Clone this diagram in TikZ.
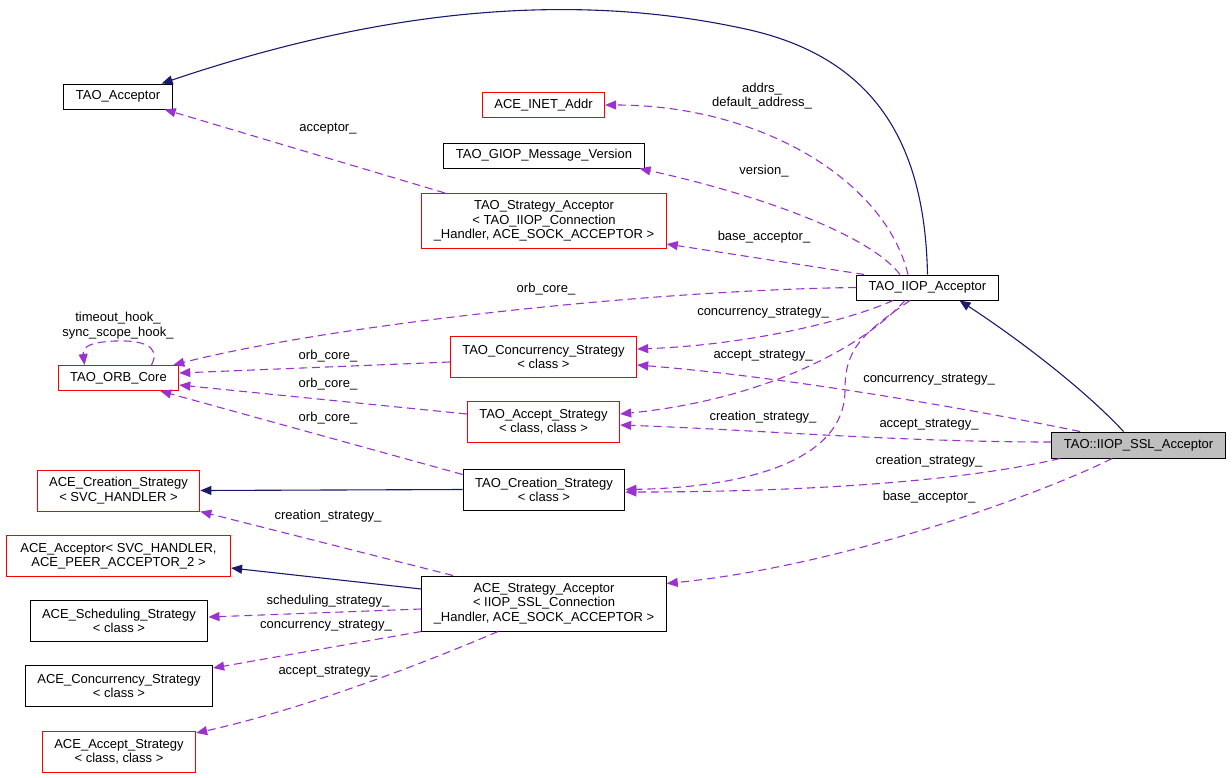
\documentclass[tikz,border=0pt]{standalone}
\usepackage{xcolor}
\usepackage{fontspec}
\setmainfont{Liberation Sans}
\usepackage{tikz}
\usetikzlibrary{arrows.meta}

\definecolor{inheritblue}{HTML}{191970}
\definecolor{usepurple}{HTML}{9A32CD}
\definecolor{focusgray}{HTML}{BFBFBF}

\begin{document}
\begin{tikzpicture}[x=1pt,y=-1pt,
    every node/.style={font=\fontsize{13}{14.3}\selectfont, inner sep=2pt},
    cls/.style={draw=black, line width=1pt, inner xsep=12pt, minimum height=25pt, align=center},
    clsred/.style={cls, draw=red},
    clsfocus/.style={cls, fill=focusgray},
    two/.style={minimum height=41pt},
    three/.style={minimum height=55pt},
    inherit/.style={draw=inheritblue, line width=1.1pt, -{Triangle[length=11pt,width=9pt]}},
    uses/.style={draw=usepurple, line width=1.1pt, dash pattern=on 8pt off 5pt, -{Triangle[length=11pt,width=9pt]}},
    lbl/.style={align=center, inner sep=0pt}]
            \useasboundingbox (0,0) rectangle (1232,777);

            \node[cls] (tacc) at (118,96.5) {TAO\_Acceptor};
            \node[clsred] (inet) at (543.5,105) {ACE\_INET\_Addr};
            \node[cls] (giop) at (544,155.5) {TAO\_GIOP\_Message\_Version};
            \node[clsred,three] (tsa) at (544,221) {TAO\_Strategy\_Acceptor\\< TAO\_IIOP\_Connection\\\_Handler, ACE\_SOCK\_ACCEPTOR >};
            \node[cls] (iiop) at (927.5,287.5) {TAO\_IIOP\_Acceptor};
            \node[clsred] (orb) at (118.5,378) {TAO\_ORB\_Core};
            \node[clsred,two] (tcs) at (543.5,357) {TAO\_Concurrency\_Strategy\\< class >};
            \node[clsred,two] (tas) at (543.5,422) {TAO\_Accept\_Strategy\\< class, class >};
            \node[clsfocus,minimum height=26pt] (ssl) at (1138.5,445) {TAO::IIOP\_SSL\_Acceptor};
            \node[cls,two] (tcr) at (544,489.5) {TAO\_Creation\_Strategy\\< class >};
            \node[clsred,two] (acr) at (118.5,490.5) {ACE\_Creation\_Strategy\\< SVC\_HANDLER >};
            \node[clsred,two,inner xsep=14pt] (aacc) at (118.5,556) {ACE\_Acceptor< SVC\_HANDLER,\\ACE\_PEER\_ACCEPTOR\_2 >};
            \node[cls,two] (asch) at (119,621) {ACE\_Scheduling\_Strategy\\< class >};
            \node[cls,two] (acon) at (119,686) {ACE\_Concurrency\_Strategy\\< class >};
            \node[clsred,two] (aas) at (119,752) {ACE\_Accept\_Strategy\\< class, class >};
            \node[cls,three] (asa) at (544,603.5) {ACE\_Strategy\_Acceptor\\< IIOP\_SSL\_Connection\\\_Handler, ACE\_SOCK\_ACCEPTOR >};

            % base classes
            \draw[inherit] (iiop.north) .. controls (925,150) and (880,60) .. (750,30)
                .. controls (550,-15) and (350,20) .. ([xshift=-11pt]tacc.north east);
            \draw[inherit] ([xshift=-15pt]ssl.north) .. controls (1085,390) and (1020,340) .. ([xshift=32pt]iiop.south);
            \draw[inherit] (tcr.west) -- (acr.east);
            \draw[inherit] ([yshift=14.5pt]asa.west) -- ([yshift=-12pt]aacc.east);

            % members of TAO_IIOP_Acceptor
            \draw[uses] ([xshift=-19.5pt]iiop.north) .. controls (885,180) and (760,105) .. (inet.east);
            \draw[uses] ([xshift=-27.5pt]iiop.north) .. controls (870,235) and (760,195) .. ([xshift=-5pt]giop.south east);
            \draw[uses] ([xshift=8pt]iiop.north west) -- ([yshift=5pt]tsa.south east);
            \draw[uses] (iiop.west) .. controls (650,290) and (330,325) .. ([xshift=-6pt]orb.north east);
            \draw[uses] ([xshift=-34.5pt]iiop.south) .. controls (850,320) and (750,345) .. ([yshift=8pt]tcs.east);
            \draw[uses] ([xshift=-22.5pt]iiop.south) .. controls (860,350) and (760,400) .. ([yshift=8pt]tas.east);
            \draw[uses] ([xshift=-17.5pt]iiop.south) .. controls (860,335) and (845,350) .. (845,390)
                .. controls (845,470) and (720,488) .. (tcr.east);

            % members of TAO::IIOP_SSL_Acceptor
            \draw[uses] ([xshift=-58.5pt]ssl.north) .. controls (1000,415) and (800,378) .. ([yshift=-8pt]tcs.east);
            \draw[uses] ([yshift=3pt]ssl.west) .. controls (900,442) and (760,430) .. ([yshift=-3pt]tas.east);
            \draw[uses] ([xshift=-78.5pt]ssl.south) .. controls (960,482) and (800,492) .. ([yshift=-2.5pt]tcr.east);
            \draw[uses] ([xshift=-26.5pt]ssl.south) .. controls (1050,490) and (850,565) .. ([yshift=20pt]asa.east);

            % the rest
            \draw[uses] ([xshift=-99pt]tsa.north) -- ([xshift=-8pt]tacc.south east);
            \draw[uses] ([yshift=-5pt]tcs.west) -- ([yshift=5pt]orb.east);
            \draw[uses] ([yshift=8pt]tas.west) -- ([yshift=-7pt]orb.east);
            \draw[uses] ([yshift=-6pt]tcr.north west) -- ([xshift=-19pt]orb.south east);
            \draw[uses] ([xshift=33pt]orb.north) .. controls (162,345) and (140,340) .. (115,341)
                .. controls (95,342) and (82,345) .. ([xshift=-34pt]orb.north);
            \draw[uses] ([xshift=-91pt]asa.north) -- (acr.south east);
            \draw[uses] ([yshift=-5.5pt]asa.west) -- ([yshift=4pt]asch.east);
            \draw[uses] (asa.south west) -- ([yshift=-3pt]acon.north east);
            \draw[uses] ([xshift=-46pt]asa.south) .. controls (420,665) and (300,710) .. ([yshift=-2pt]aas.north east);

            \node[lbl] (lacc) at (328,129) {acceptor\_};
            \node[lbl] (laddr) at (762,96) {addrs\_\\default\_address\_};
            \node[lbl] (lver) at (764,171) {version\_};
            \node[lbl] (lbase) at (764,237) {base\_acceptor\_};
            \node[lbl] (lorb) at (546,289) {orb\_core\_};
            \node[lbl] (lhook) at (118,325.5) {timeout\_hook\_\\sync\_scope\_hook\_};
            \node[lbl] (lconc) at (763,313) {concurrency\_strategy\_};
            \node[lbl] (lorbb) at (328,356) {orb\_core\_};
            \node[lbl] (lacs) at (763,356) {accept\_strategy\_};
            \node[lbl] (lorbc) at (328,384) {orb\_core\_};
            \node[lbl] (lsslconc) at (929,380) {concurrency\_strategy\_};
            \node[lbl] (lcre) at (763,417) {creation\_strategy\_};
            \node[lbl] (lorbd) at (328,418) {orb\_core\_};
            \node[lbl] (lsslacs) at (929,425) {accept\_strategy\_};
            \node[lbl] (lsslcre) at (929,461) {creation\_strategy\_};
            \node[lbl] (lsslbase) at (929,497) {base\_acceptor\_};
            \node[lbl] (lacecre) at (328,516) {creation\_strategy\_};
            \node[lbl] (lsched) at (328,601) {scheduling\_strategy\_};
            \node[lbl] (laceconc) at (326,626) {concurrency\_strategy\_};
            \node[lbl] (laceacs) at (328,672) {accept\_strategy\_};

\end{tikzpicture}
\end{document}
